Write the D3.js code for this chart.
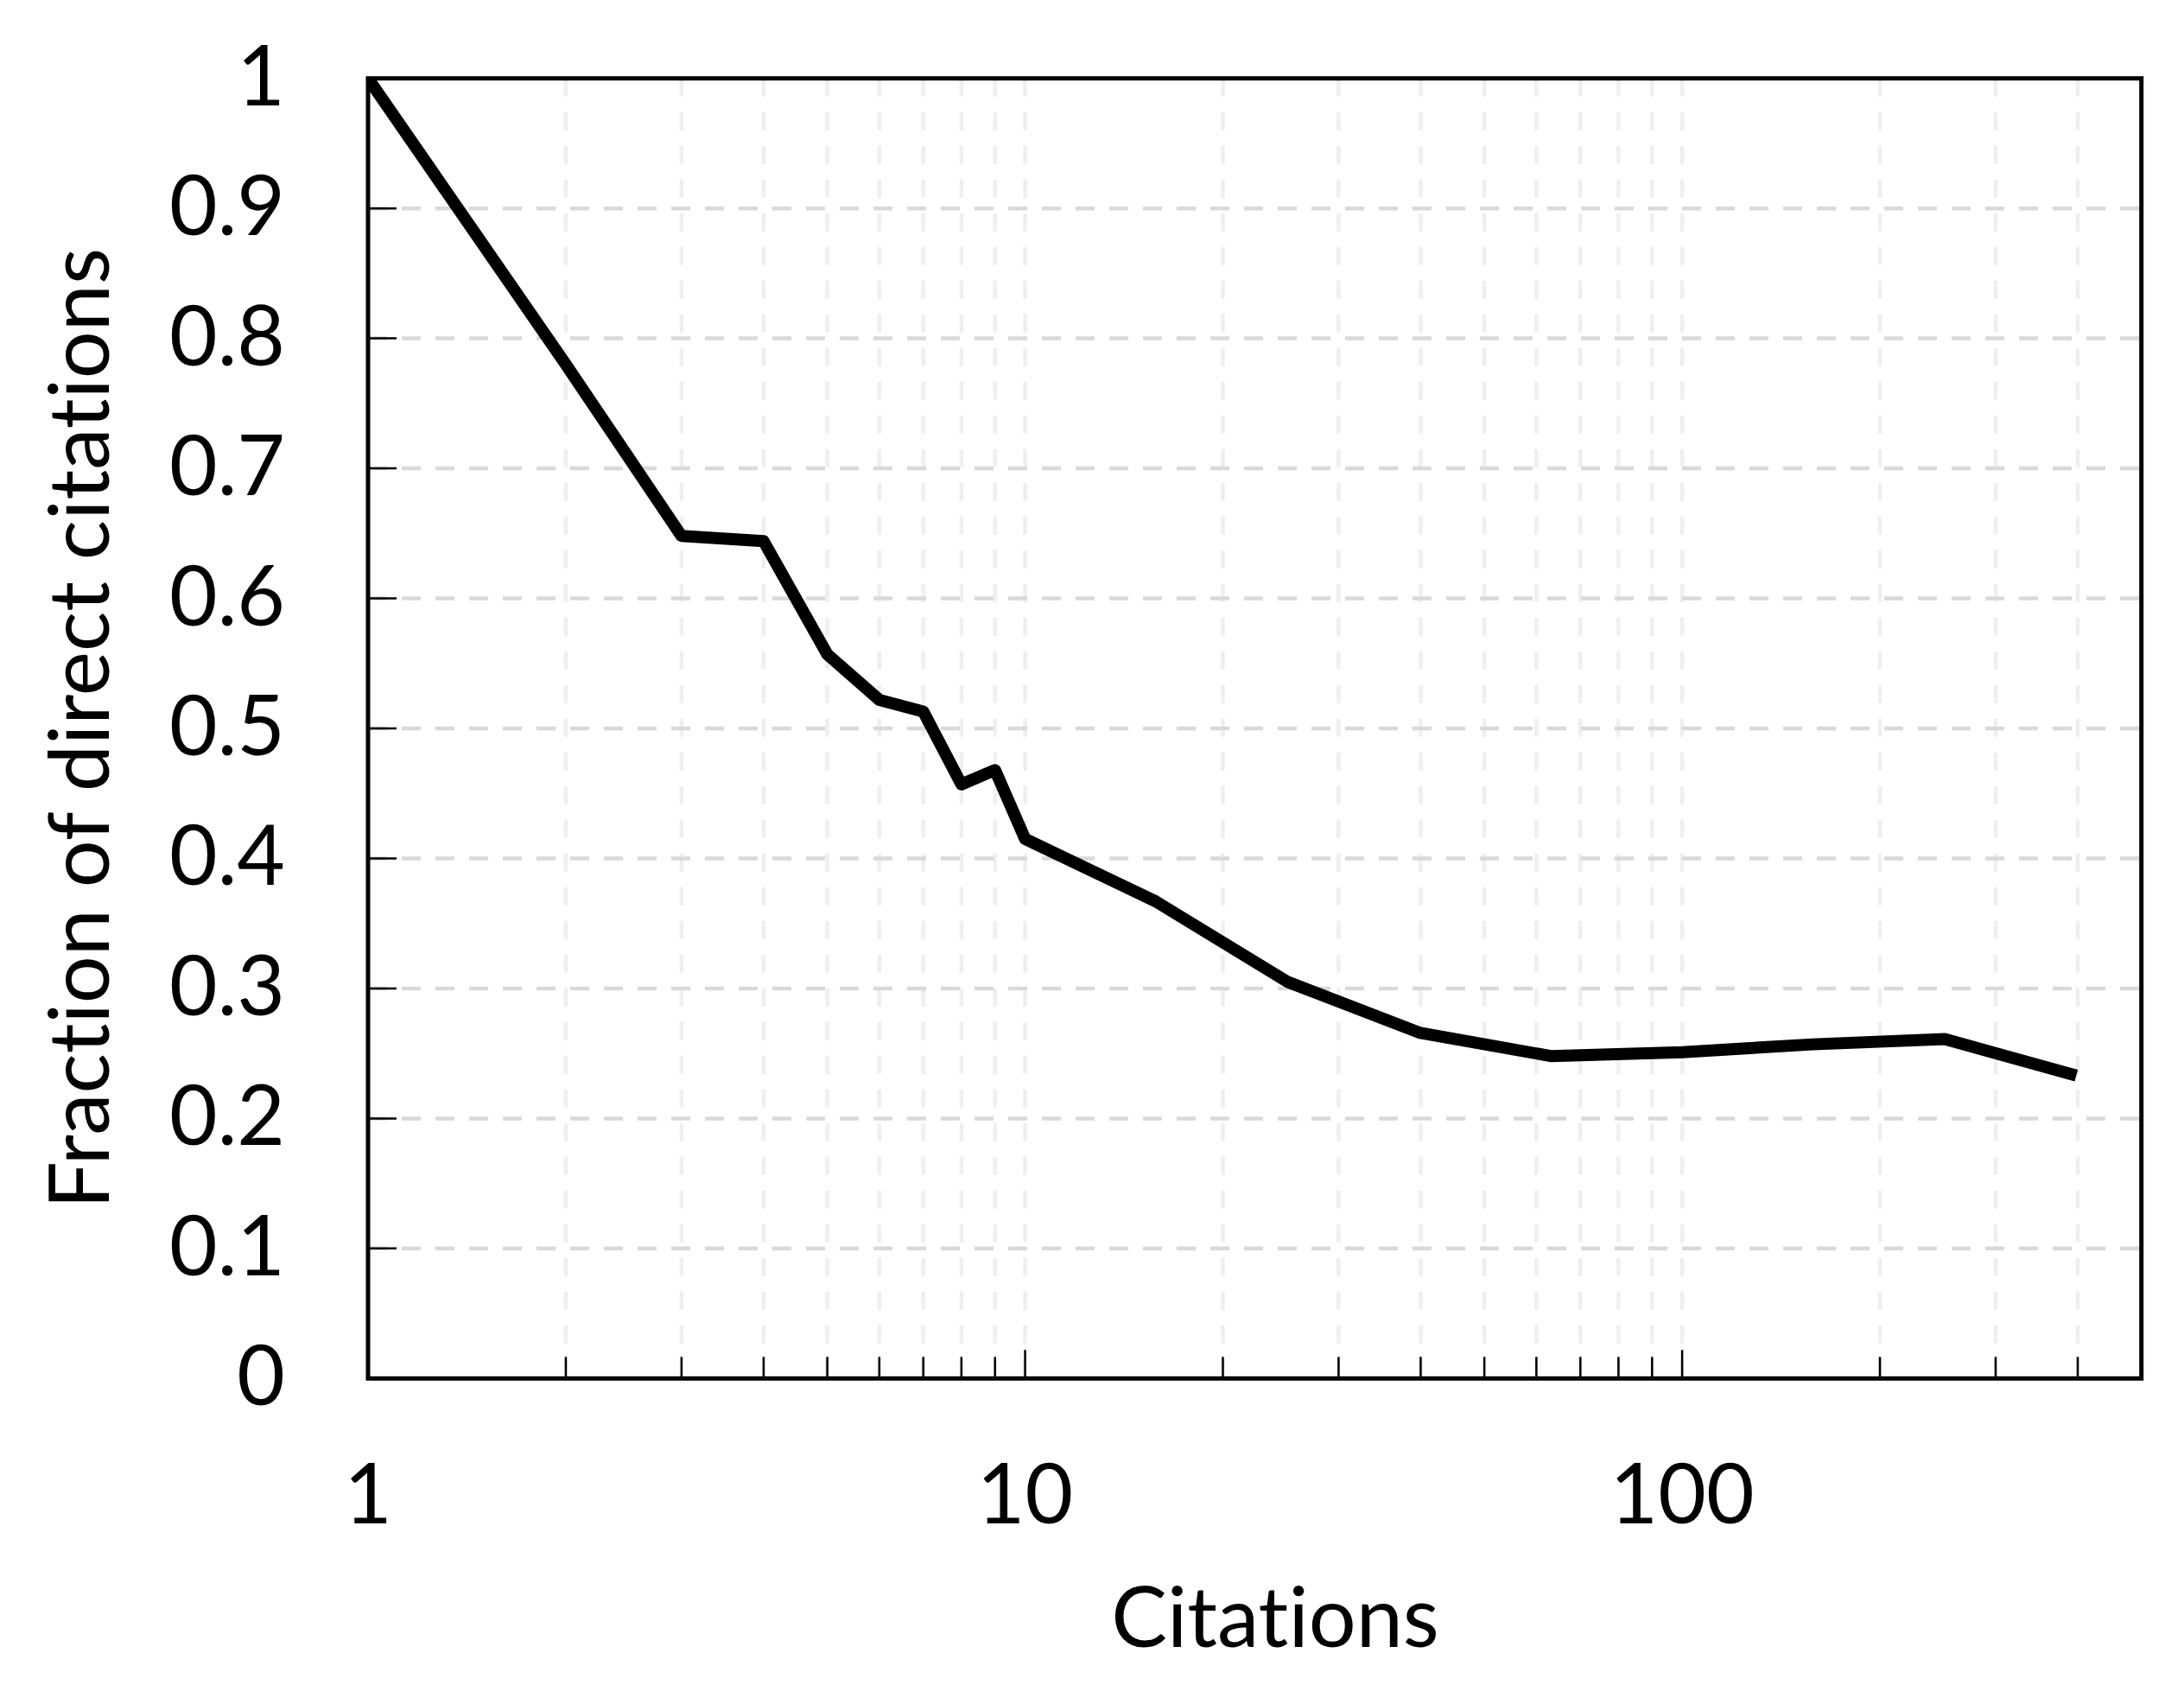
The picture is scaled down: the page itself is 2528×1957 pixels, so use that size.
<!DOCTYPE html>
<html>
<head>
<meta charset="utf-8">
<script src="https://cdn.jsdelivr.net/npm/d3@7/dist/d3.min.js"></script>
<style>
  html, body { margin: 0; padding: 0; background: #fff; }
  svg { display: block; }
  text { font-family: Lato, "Open Sans", sans-serif; fill: #000; font-variant-ligatures: none; font-feature-settings: "liga" 0; }
</style>
</head>
<body>
<svg id="chart"></svg>
<script>
var citations = [1, 2, 3, 4, 5, 6, 7, 8, 9, 10, 15.8, 25.1, 39.8, 63.1, 100, 158, 251, 398];
var fraction = [1.0, 0.78, 0.648, 0.644, 0.557, 0.522, 0.513, 0.457, 0.468, 0.415,
                0.367, 0.305, 0.266, 0.248, 0.251, 0.257, 0.261, 0.233];
var xTickLabels = [1, 10, 100];
var yTicks = [0, 0.1, 0.2, 0.3, 0.4, 0.5, 0.6, 0.7, 0.8, 0.9, 1];
var xTitle = "Citations";
var yTitle = "Fraction of direct citations";

var width = 2528;
var height = 1957;
var plotLeft = 426, plotRight = 2478.7, plotTop = 90.7, plotBottom = 1595.3;

var svg = d3.select("#chart")
    .attr("width", width)
    .attr("height", height);

svg.append("rect")
    .attr("width", width)
    .attr("height", height)
    .attr("fill", "#fff");

var x = d3.scaleLog().domain([1, 500]).range([plotLeft, plotRight]);
var y = d3.scaleLinear().domain([0, 1]).range([plotBottom, plotTop]);

// minor log ticks inside the domain (2..9, 10, 20..90, 100, 200..400)
var xMinor = x.ticks().filter(function(d){ return d > 1 && d < 500; });

// vertical grid
svg.append("g")
    .selectAll("line")
    .data(xMinor)
    .enter()
    .append("line")
    .attr("x1", function(d){ return x(d); })
    .attr("x2", function(d){ return x(d); })
    .attr("y1", plotTop)
    .attr("y2", plotBottom)
    .attr("stroke", "#efefef")
    .attr("stroke-width", 4.5)
    .attr("stroke-dasharray", "21,18");

// horizontal grid
svg.append("g")
    .selectAll("line")
    .data(yTicks.filter(function(d){ return d > 0 && d < 1; }))
    .enter()
    .append("line")
    .attr("x1", plotLeft)
    .attr("x2", plotRight)
    .attr("y1", function(d){ return y(d); })
    .attr("y2", function(d){ return y(d); })
    .attr("stroke", "#d9d9d9")
    .attr("stroke-width", 4.5)
    .attr("stroke-dasharray", "22,17");

// ticks
svg.append("g")
    .selectAll("line")
    .data(xMinor)
    .enter()
    .append("line")
    .attr("x1", function(d){ return x(d); })
    .attr("x2", function(d){ return x(d); })
    .attr("y1", plotBottom)
    .attr("y2", function(d){
        return xTickLabels.indexOf(d) >= 0 ? plotBottom - 33 : plotBottom - 25;
    })
    .attr("stroke", "#000")
    .attr("stroke-width", 2.5);

svg.append("g")
    .selectAll("line")
    .data(yTicks)
    .enter()
    .append("line")
    .attr("x1", plotLeft)
    .attr("x2", plotLeft + 33)
    .attr("y1", function(d){ return y(d); })
    .attr("y2", function(d){ return y(d); })
    .attr("stroke", "#000")
    .attr("stroke-width", 2.5);

// data line
svg.append("clipPath")
    .attr("id", "plot-clip")
    .append("rect")
    .attr("x", plotLeft)
    .attr("y", plotTop)
    .attr("width", plotRight - plotLeft)
    .attr("height", plotBottom - plotTop);

var line = d3.line()
    .x(function(d, i){ return x(citations[i]); })
    .y(function(d){ return y(d); });

svg.append("path")
    .datum(fraction)
    .attr("d", line)
    .attr("fill", "none")
    .attr("stroke", "#000")
    .attr("stroke-width", 14)
    .attr("stroke-linejoin", "round")
    .attr("clip-path", "url(#plot-clip)");

// frame
svg.append("rect")
    .attr("x", plotLeft)
    .attr("y", plotTop)
    .attr("width", plotRight - plotLeft)
    .attr("height", plotBottom - plotTop)
    .attr("fill", "none")
    .attr("stroke", "#000")
    .attr("stroke-width", 5);

// tick labels
var fs = 96;
svg.append("g")
    .selectAll("text")
    .data(yTicks)
    .enter()
    .append("text")
    .attr("x", 330)
    .attr("y", function(d){ return y(d) + 31; })
    .attr("text-anchor", "end")
    .attr("font-size", fs + "px")
    .text(function(d){ return String(d); });

svg.append("g")
    .selectAll("text")
    .data(xTickLabels)
    .enter()
    .append("text")
    .attr("x", function(d){ return x(d); })
    .attr("y", 1763)
    .attr("text-anchor", "middle")
    .attr("font-size", fs + "px")
    .text(function(d){ return String(d); });

// axis titles
svg.append("text")
    .attr("x", 1476)
    .attr("y", 1906)
    .attr("text-anchor", "middle")
    .attr("font-size", "97px")
    .text(xTitle);

svg.append("text")
    .attr("transform", "translate(126,843) rotate(-90)")
    .attr("text-anchor", "middle")
    .attr("font-size", "97px")
    .text(yTitle);
</script>
</body>
</html>
